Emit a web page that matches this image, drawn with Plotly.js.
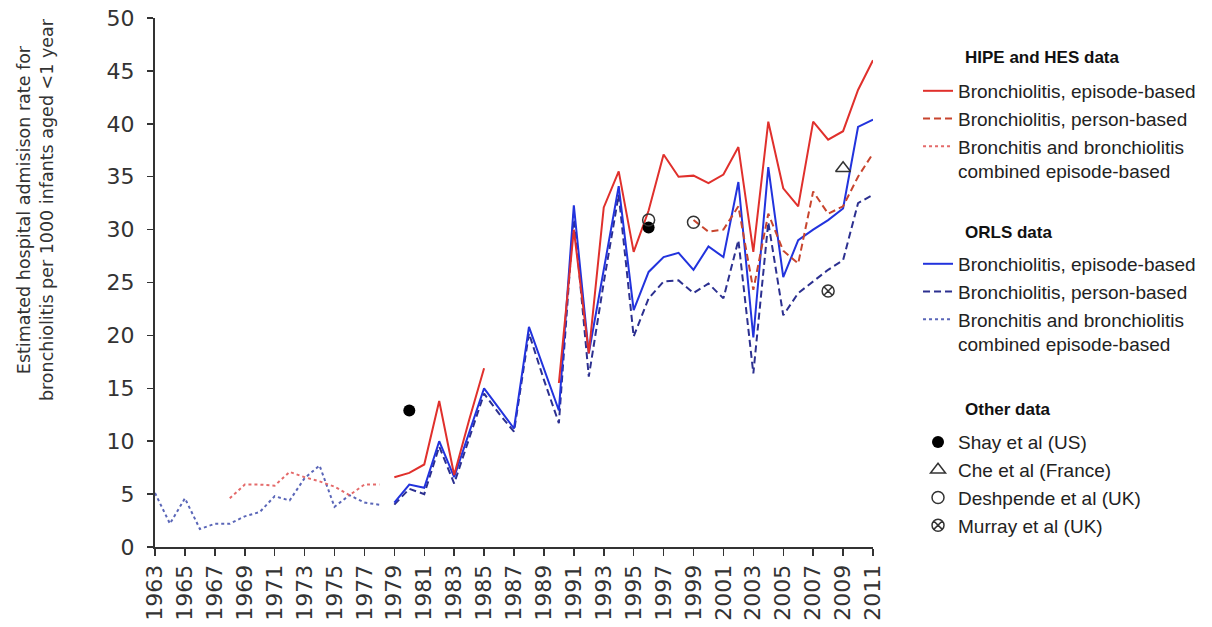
<!DOCTYPE html>
<html>
<head>
<meta charset="utf-8">
<script src="https://cdn.plot.ly/plotly-3.0.1.min.js"></script>
<style>html,body{margin:0;padding:0;background:#fff;}#chart{width:1212px;height:627px;}</style>
</head>
<body>
<div id="chart"></div>
<script>
// ---- Data ----
const yearsEarly = [1963,1964,1965,1966,1967,1968,1969,1970,1971,1972,1973,1974,1975,1976,1977,1978];
const orlsCombined = [5.1,2.2,4.6,1.7,2.2,2.2,2.9,3.3,4.8,4.4,6.5,7.7,3.8,4.9,4.2,4.0];

const yearsHipeCombined = [1968,1969,1970,1971,1972,1973,1974,1975,1976,1977,1978];
const hipeCombined = [4.6,5.9,5.9,5.8,7.1,6.6,6.2,5.7,4.9,5.9,5.9];

const yearsMain = [1979,1980,1981,1982,1983,1984,1985,1986,1987,1988,1989,1990,1991,1992,1993,1994,1995,1996,1997,1998,1999,2000,2001,2002,2003,2004,2005,2006,2007,2008,2009,2010,2011];
const hipeEpisode = [6.6,7.0,7.8,13.8,6.8,12.0,16.9,null,null,null,null,15.5,30.0,18.3,32.1,35.5,27.9,31.8,37.1,35.0,35.1,34.4,35.2,37.8,27.9,40.2,33.9,32.2,40.2,38.5,39.3,43.2,46.0];
const orlsEpisode = [4.2,5.9,5.6,10.0,6.6,10.8,15.0,13.1,11.2,20.8,16.8,12.9,32.3,18.3,26.2,34.1,22.4,26.0,27.4,27.8,26.2,28.4,27.4,34.5,19.8,35.9,25.5,29.0,30.0,30.9,32.0,39.7,40.4];
const orlsPerson = [4.0,5.5,5.0,9.5,6.0,10.2,14.5,12.6,10.9,20.2,15.8,11.7,31.5,16.1,25.0,33.3,19.9,23.5,25.1,25.2,24.0,24.9,23.5,29.0,16.4,30.7,21.9,24.0,25.1,26.2,27.1,32.5,33.3];

const yearsHipePerson = [1999,2000,2001,2002,2003,2004,2005,2006,2007,2008,2009,2010,2011];
const hipePerson = [30.9,29.8,30.0,32.2,24.3,31.5,28.0,26.8,33.6,31.5,32.2,35.0,37.2];

const shayYears = [1980,1996];     const shayVals = [12.9,30.2];
const cheYears = [2009];           const cheVals = [35.8];
const deshYears = [1996,1999];     const deshVals = [30.9,30.7];
const murrayYears = [2008];        const murrayVals = [24.2];

const labelsEpisode = 'Bronchiolitis, episode-based';
const labelsPerson = 'Bronchiolitis, person-based';
const labelsCombined = 'Bronchitis and bronchiolitis<br>combined episode-based';

// ---- Styles ----
const RED = '#e0302c', RED_D = '#c8452e', RED_DOT = '#e46a6a';
const BLUE = '#2233dd', BLUE_D = '#2c3090', BLUE_DOT = '#5a66b8';
const INK = '#333333';

const traces = [
  {x: yearsEarly, y: orlsCombined, mode:'lines', name: labelsCombined, legend:'legend2', legendrank:3,
   line:{color:BLUE_DOT, width:2, dash:'dot'}},
  {x: yearsHipeCombined, y: hipeCombined, mode:'lines', name: labelsCombined, legend:'legend', legendrank:3,
   line:{color:RED_DOT, width:2, dash:'dot'}},
  {x: yearsMain, y: orlsPerson, mode:'lines', name: labelsPerson, legend:'legend2', legendrank:2,
   line:{color:BLUE_D, width:2, dash:'7px,4px'}},
  {x: yearsMain, y: orlsEpisode, mode:'lines', name: labelsEpisode, legend:'legend2', legendrank:1,
   line:{color:BLUE, width:2}},
  {x: yearsHipePerson, y: hipePerson, mode:'lines', name: labelsPerson, legend:'legend', legendrank:2,
   line:{color:RED_D, width:2, dash:'7px,4px'}},
  {x: yearsMain, y: hipeEpisode, mode:'lines', name: labelsEpisode, legend:'legend', legendrank:1,
   line:{color:RED, width:2}},
  {x: shayYears, y: shayVals, mode:'markers', name:'Shay et al (US)', legend:'legend3', legendrank:1,
   marker:{symbol:'circle', size:12, color:'#000'}},
  {x: cheYears, y: cheVals, mode:'markers', name:'Che et al (France)', legend:'legend3', legendrank:2,
   marker:{symbol:'triangle-up-open', size:13, color:INK, line:{width:1.5, color:INK}}},
  {x: deshYears, y: deshVals, mode:'markers', name:'Deshpende et al (UK)', legend:'legend3', legendrank:3,
   marker:{symbol:'circle-open', size:12, color:INK, line:{width:1.5, color:INK}}},
  {x: murrayYears, y: murrayVals, mode:'markers', name:'Murray et al (UK)', legend:'legend3', legendrank:4,
   marker:{symbol:'circle-x-open', size:12, color:INK, line:{width:1.5, color:INK}}}
];

const legendBase = {
  xanchor:'left', yanchor:'top', bgcolor:'rgba(0,0,0,0)', borderwidth:0,
  font:{family:'Liberation Sans, Arial, sans-serif', size:19, color:'#222'},
  valign:'top', tracegroupgap:0, traceorder:'normal'
};

const titleFont = {family:'Liberation Sans, Arial, sans-serif', size:17, color:'#111'};

const layout = {
  width:1212, height:627,
  margin:{l:155, r:339, t:18, b:80, autoexpand:false},
  paper_bgcolor:'#fff', plot_bgcolor:'#fff',
  showlegend:true,
  xaxis:{
    range:[1963,2011], tickmode:'linear', tick0:1963, dtick:2, tickangle:-90,
    ticks:'outside', ticklen:7, tickwidth:1.5, tickcolor:INK,
    showline:true, linecolor:INK, linewidth:2, showgrid:false, zeroline:false,
    tickfont:{family:'DejaVu Sans, Verdana, sans-serif', size:22, color:INK}
  },
  yaxis:{
    range:[0,50], tickmode:'linear', tick0:0, dtick:5,
    ticks:'outside', ticklen:6, tickwidth:1.5, tickcolor:INK, ticklabelstandoff:8,
    showline:true, linecolor:INK, linewidth:2, showgrid:false, zeroline:false,
    tickfont:{family:'DejaVu Sans, Verdana, sans-serif', size:22, color:INK}
  },
  legend: Object.assign({}, legendBase, {x:1.0627, y:0.898}),
  legend2: Object.assign({}, legendBase, {x:1.0627, y:0.571}),
  legend3: Object.assign({}, legendBase, {x:1.0627, y:0.234}),
  annotations:[
    {text:'<b>HIPE and HES data</b>', xref:'paper', yref:'paper', x:1.1253, y:0.926, xanchor:'left', yanchor:'middle', showarrow:false, font:titleFont},
    {text:'<b>ORLS data</b>', xref:'paper', yref:'paper', x:1.1253, y:0.5936, xanchor:'left', yanchor:'middle', showarrow:false, font:titleFont},
    {text:'<b>Other data</b>', xref:'paper', yref:'paper', x:1.1253, y:0.259, xanchor:'left', yanchor:'middle', showarrow:false, font:titleFont},
    {text:'Estimated hospital admisison rate for<br>bronchiolitis per 1000 infants aged &lt;1 year',
     xref:'paper', yref:'paper', x:-0.1671, y:0.637, xanchor:'center', yanchor:'middle', textangle:-90,
     showarrow:false, font:{family:'DejaVu Sans, Verdana, sans-serif', size:17.5, color:INK}}
  ]
};

Plotly.newPlot('chart', traces, layout, {displayModeBar:false, staticPlot:true});
</script>
</body>
</html>
